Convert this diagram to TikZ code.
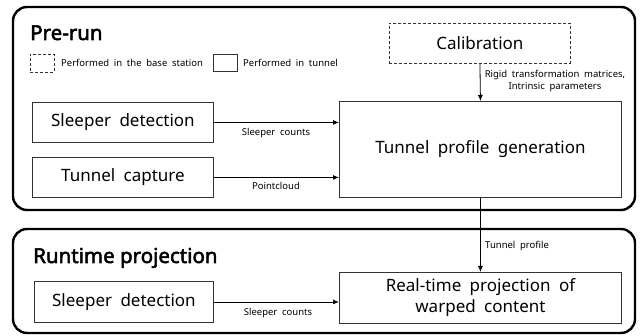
\documentclass[tikz,border=0pt]{standalone}
\usepackage{fontspec}
\setmainfont{Noto Sans}[WordSpace=1.9]
\newfontfamily\ttlfont{Noto Sans}[FakeBold=2.5]
\usetikzlibrary{arrows.meta}
\tikzset{
  group/.style={draw=black, line width=2.4pt, rounded corners=14pt},
  procbox/.style={draw=black!80, line width=0.9pt, anchor=north west, inner sep=0pt, align=center, font=\fontsize{17}{21}\selectfont},
  dashbox/.style={procbox, dashed, dash pattern=on 3pt off 2pt},
  lbl/.style={font=\fontsize{9.5}{12}\selectfont, inner sep=0pt, align=center},
  ttl/.style={font=\ttlfont\fontsize{20.5}{24}\selectfont, anchor=base west, inner sep=0pt},
  arr/.style={draw=black, line width=0.8pt, -{Latex[length=6pt,width=5pt]}}
}
\begin{document}
\begin{tikzpicture}[x=1pt,y=-1pt]
\useasboundingbox (0,0) rectangle (642,336);
\fill[white] (0,0) rectangle (642,336);
% groups
\draw[group] (13,7) rectangle (635,210);
\draw[group] (13,229) rectangle (635,333);
\node[ttl] (t1) at (30,40) {Pre-run};
\node[ttl] (t2) at (33,263) {Runtime projection};
% legend
\node[dashbox, minimum width=24pt, minimum height=18pt] (lg1) at (30,54) {};
\node[lbl, anchor=west] (lg1t) at (61,63) {Performed in the base station};
\node[procbox, minimum width=24pt, minimum height=17pt] (lg2) at (213,54) {};
\node[lbl, anchor=west] (lg2t) at (243,63) {Performed in tunnel};
% boxes
\node[dashbox, minimum width=181pt, minimum height=40pt] (cal) at (389,23) {Calibration};
\node[procbox, minimum width=282pt, minimum height=96pt] (tpg) at (339,101) {Tunnel profile generation};
\node[procbox, minimum width=181pt, minimum height=40pt] (sd1) at (32,102) {Sleeper detection};
\node[procbox, minimum width=181pt, minimum height=40pt] (tc) at (32,157) {Tunnel capture};
\node[procbox, minimum width=179pt, minimum height=41pt] (sd2) at (34,281) {Sleeper detection};
\node[procbox, minimum width=282pt, minimum height=51pt] (rt) at (339,272) {Real-time projection of\\warped content};
% connectors
\draw[arr] (sd1.east) -- (sd1.east -| tpg.west);
\draw[arr] (tc.east) -- (tc.east -| tpg.west);
\draw[arr] (cal.south) -- (tpg.north);
\draw[arr] (tpg.south) -- (rt.north);
\draw[arr] (sd2.east) -- (sd2.east -| rt.west);
% labels
\node[lbl] (l1) at (276,133) {Sleeper counts};
\node[lbl] (l2) at (276,186) {Pointcloud};
\node[lbl] (l3) at (555,81) {Rigid transformation matrices,\\Intrinsic parameters};
\node[lbl, anchor=west] (l4) at (485,246) {Tunnel profile};
\node[lbl] (l5) at (278,313) {Sleeper counts};
\end{tikzpicture}
\end{document}
